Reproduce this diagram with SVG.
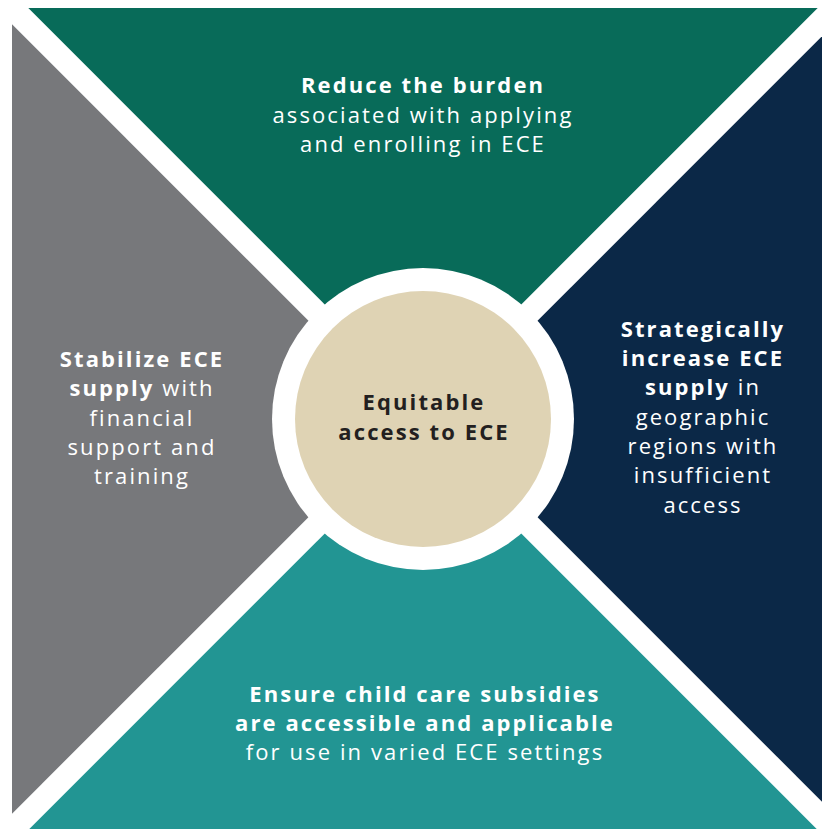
<svg xmlns="http://www.w3.org/2000/svg" width="822" height="829" viewBox="0 0 822 829">
  <style>
    .lbl { font-family: "Open Sans", "Noto Sans", "Liberation Sans", sans-serif; font-size: 22px; fill: #ffffff; text-anchor: middle; letter-spacing: 2.1px; }
    .b { font-weight: 700; }
    .core { fill: #231f20; font-weight: 700; }
  </style>
  <rect width="822" height="829" fill="#ffffff"/>

  <!-- four quadrants meeting at the hub (423,419), split by 23px white gaps -->
  <g id="burden">
    <polygon points="28.3,8 817.7,8 423,402.7" fill="#086b59"/>
    <text class="lbl"><tspan class="b" x="423" y="93">Reduce the burden</tspan><tspan x="423" y="123">associated with applying</tspan><tspan x="423" y="152">and enrolling in ECE</tspan></text>
  </g>

  <g id="stabilize">
    <polygon points="12,24.3 12,813.7 406.7,419" fill="#77787b"/>
    <text class="lbl"><tspan class="b" x="142" y="367">Stabilize ECE</tspan><tspan x="142" y="396"><tspan class="b">supply</tspan> with</tspan><tspan x="142" y="426">financial</tspan><tspan x="142" y="455">support and</tspan><tspan x="142" y="484">training</tspan></text>
  </g>

  <g id="increase">
    <polygon points="834,24.3 834,813.7 439.3,419" fill="#0b2847"/>
    <text class="lbl"><tspan class="b" x="703" y="337">Strategically</tspan><tspan class="b" x="703" y="366">increase ECE</tspan><tspan x="703" y="395"><tspan class="b">supply</tspan> in</tspan><tspan x="703" y="425">geographic</tspan><tspan x="703" y="454">regions with</tspan><tspan x="703" y="483">insufficient</tspan><tspan x="703" y="513">access</tspan></text>
  </g>

  <g id="subsidies">
    <polygon points="28.3,830 817.7,830 423,435.3" fill="#229593"/>
    <text class="lbl"><tspan class="b" x="425" y="702">Ensure child care subsidies</tspan><tspan class="b" x="425" y="731">are accessible and applicable</tspan><tspan x="425" y="760">for use in varied ECE settings</tspan></text>
  </g>

  <!-- central hub -->
  <g id="hub">
    <circle cx="423" cy="419" r="151" fill="#ffffff"/>
    <circle cx="423" cy="419" r="128" fill="#dfd3b4"/>
    <text class="lbl core"><tspan x="424" y="410">Equitable</tspan><tspan x="424" y="440">access to ECE</tspan></text>
  </g>
</svg>
